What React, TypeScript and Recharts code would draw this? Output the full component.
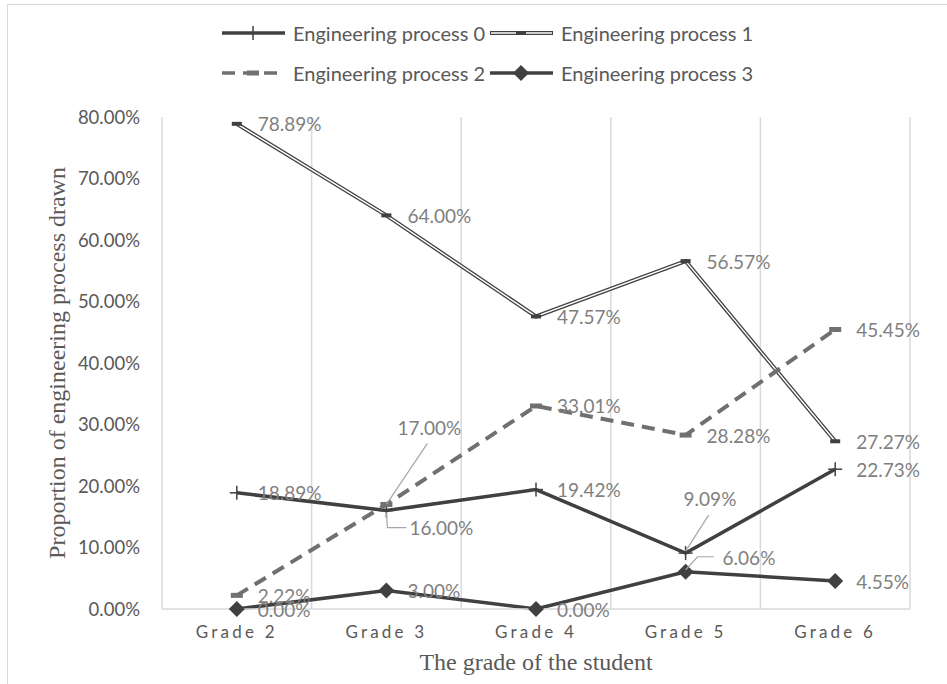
import { ComposedChart, Line, XAxis, YAxis, CartesianGrid, Legend, LabelList } from 'recharts';

const grades = ['Grade 2', 'Grade 3', 'Grade 4', 'Grade 5', 'Grade 6'];
const process0 = [18.89, 16.0, 19.42, 9.09, 22.73];
const process1 = [78.89, 64.0, 47.57, 56.57, 27.27];
const process2 = [2.22, 17.0, 33.01, 28.28, 45.45];
const process3 = [0.0, 3.0, 0.0, 6.06, 4.55];
const yTicks = [0, 10, 20, 30, 40, 50, 60, 70, 80];
const seriesNames = ['Engineering process 0', 'Engineering process 1', 'Engineering process 2', 'Engineering process 3'];

const data = grades.map((grade, i) => ({
  grade,
  p0: process0[i],
  p1: process1[i],
  p2: process2[i],
  p3: process3[i],
}));

const DARK = '#404040';
const MID = '#707070';
const GRID = '#d9d9d9';
const TEXT = '#595959';
const LABEL = '#7f7f7f';
const FONT = 'Lato, "Open Sans", sans-serif';
const SERIF = '"Liberation Serif", serif';

// label nudges (relative to the point) for the few labels Excel moved by hand
const nudges: Record<string, { dx: number; dy: number; leader?: number[][] }> = {
  'p0-1': { dx: 23, dy: 17, leader: [[0, 2], [1, 17], [20, 17]] },
  'p0-3': { dx: -2, dy: -55, leader: [[0, -2], [23, -38]] },
  'p2-1': { dx: 11, dy: -77, leader: [[0, 0], [41, -61]] },
  'p3-3': { dx: 37, dy: -14, leader: [[0, -2], [12, -15], [28, -15]] },
};

const makeLabel = (key: string) => (props: any) => {
  const { index, value } = props;
  const x = props.x ?? props.viewBox?.x;
  const y = props.y ?? props.viewBox?.y;
  if (x == null || y == null) return null;
  const n = nudges[`${key}-${index}`] || { dx: 21, dy: 0 };
  return (
    <g>
      {n.leader && (
        <polyline
          points={n.leader.map(([a, b]) => `${x + a},${y + b}`).join(' ')}
          fill="none"
          stroke="#a6a6a6"
          strokeWidth={1.2}
        />
      )}
      <text x={x + n.dx} y={y + n.dy} fill={LABEL} fontSize={19} fontFamily={FONT} dominantBaseline="central">
        {`${Number(value).toFixed(2)}%`}
      </text>
    </g>
  );
};

const plus = (cx: number, cy: number) => (
  <g>
    <line x1={cx - 7} y1={cy} x2={cx + 7} y2={cy} stroke={DARK} strokeWidth={1.5} />
    <line x1={cx} y1={cy - 7} x2={cx} y2={cy + 7} stroke={DARK} strokeWidth={1.5} />
  </g>
);
const smallDash = (cx: number, cy: number) => <rect x={cx - 5} y={cy - 2} width={10} height={4} fill={DARK} />;
const wideDash = (cx: number, cy: number) => <rect x={cx - 6} y={cy - 2.5} width={12} height={5} fill={MID} />;
const diamond = (cx: number, cy: number) => (
  <polygon points={`${cx},${cy - 8} ${cx + 8},${cy} ${cx},${cy + 8} ${cx - 8},${cy}`} fill={DARK} />
);

const dotOf = (draw: (cx: number, cy: number) => any) => (props: any) => {
  const { cx, cy, index } = props;
  if (cx == null || cy == null) return <g key={index} />;
  return <g key={index}>{draw(cx, cy)}</g>;
};

const LegendBox = () => {
  const rows = [33, 73];
  const cols = [222, 490];
  const items = [
    { draw: plus, stroke: DARK, dash: undefined, double: false },
    { draw: smallDash, stroke: DARK, dash: undefined, double: true },
    { draw: wideDash, stroke: MID, dash: '13 8', double: false },
    { draw: diamond, stroke: DARK, dash: undefined, double: false },
  ];
  return (
    <svg width={947} height={95}>
      {items.map((it, i) => {
        const x0 = cols[i % 2];
        const y = rows[Math.floor(i / 2)];
        return (
          <g key={i}>
            <line x1={x0} y1={y} x2={x0 + 63} y2={y} stroke={it.stroke} strokeWidth={it.double ? 4 : 3.5} strokeDasharray={it.dash} />
            {it.double && <line x1={x0 + 1} y1={y} x2={x0 + 62} y2={y} stroke="#fff" strokeWidth={1.4} />}
            {it.draw(x0 + 31, y)}
            <text x={x0 + 71} y={y} fill={TEXT} fontSize={20} fontFamily={FONT} dominantBaseline="central">
              {seriesNames[i]}
            </text>
          </g>
        );
      })}
    </svg>
  );
};

const XTitle = (props: any) => {
  const vb = props.viewBox;
  return (
    <text x={vb.x + vb.width / 2} y={662} textAnchor="middle" dominantBaseline="central" fill={TEXT} fontSize={24} fontFamily={SERIF}>
      The grade of the student
    </text>
  );
};

const YTitle = (props: any) => {
  const vb = props.viewBox;
  const cy = vb.y + vb.height / 2;
  return (
    <text x={57} y={cy} transform={`rotate(-90, 57, ${cy})`} textAnchor="middle" dominantBaseline="central" fill={TEXT} fontSize={24} fontFamily={SERIF}>
      Proportion of engineering process drawn
    </text>
  );
};

export default function App() {
  return (
    <div style={{ position: 'absolute', left: 0, top: 0, width: 947, height: 684, background: '#fff' }}>
      <div
        style={{
          position: 'absolute',
          left: 7,
          top: 4,
          width: 940,
          height: 680,
          borderTop: `1.5px solid ${GRID}`,
          borderLeft: `1.5px solid ${GRID}`,
        }}
      />
      <ComposedChart width={947} height={684} data={data} margin={{ top: 117, right: 37, bottom: 0, left: 12 }}>
        <CartesianGrid
          horizontal={false}
          stroke={GRID}
          strokeWidth={1.5}
          verticalCoordinatesGenerator={({ offset }: any) =>
            grades.map((_, i) => offset.left + (i * offset.width) / grades.length).concat(offset.left + offset.width)
          }
        />
        <XAxis
          dataKey="grade"
          scale="band"
          height={75}
          axisLine={{ stroke: GRID, strokeWidth: 1.5 }}
          tickLine={false}
          tickSize={0}
          tickMargin={17}
          tick={{ fill: TEXT, fontSize: 17, fontFamily: FONT, letterSpacing: 3.2 }}
          label={<XTitle />}
        />
        <YAxis
          width={150}
          domain={[0, 80]}
          ticks={yTicks}
          axisLine={false}
          tickLine={false}
          tickSize={0}
          tickMargin={22}
          tickFormatter={(v: number) => `${v.toFixed(2)}%`}
          tick={{ fill: TEXT, fontSize: 18.5, fontFamily: FONT }}
          label={<YTitle />}
        />
        <Legend verticalAlign="middle" wrapperStyle={{ top: 0, left: 0, width: 947, height: 95 }} content={<LegendBox />} />
        <Line dataKey="p0" name={seriesNames[0]} stroke={DARK} strokeWidth={3.5} dot={dotOf(plus)} activeDot={false} isAnimationActive={false}>
          <LabelList dataKey="p0" content={makeLabel('p0')} />
        </Line>
        <Line dataKey="p1" name={seriesNames[1]} stroke={DARK} strokeWidth={4} dot={false} activeDot={false} isAnimationActive={false}>
          <LabelList dataKey="p1" content={makeLabel('p1')} />
        </Line>
        <Line dataKey="p1" legendType="none" stroke="#fff" strokeWidth={1.4} dot={dotOf(smallDash)} activeDot={false} isAnimationActive={false} />
        <Line dataKey="p2" name={seriesNames[2]} stroke={MID} strokeWidth={4} strokeDasharray="13 8" dot={dotOf(wideDash)} activeDot={false} isAnimationActive={false}>
          <LabelList dataKey="p2" content={makeLabel('p2')} />
        </Line>
        <Line dataKey="p3" name={seriesNames[3]} stroke={DARK} strokeWidth={3.5} dot={dotOf(diamond)} activeDot={false} isAnimationActive={false}>
          <LabelList dataKey="p3" content={makeLabel('p3')} />
        </Line>
      </ComposedChart>
    </div>
  );
}
